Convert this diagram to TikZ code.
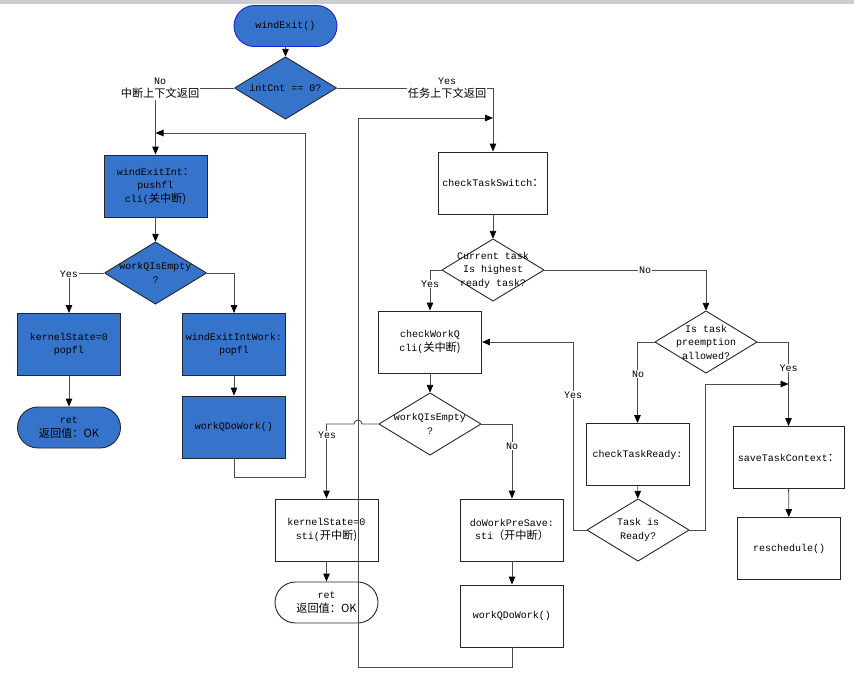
\documentclass[tikz,border=0pt]{standalone}
\usepackage{fontspec}
\setmainfont{Liberation Mono}
\newfontfamily\cjk[Scale=1.12]{Noto Sans CJK SC}
\usetikzlibrary{arrows.meta}
\definecolor{boxblue}{RGB}{54,116,204}
\definecolor{edgeblue}{RGB}{30,30,225}
\definecolor{linegray}{RGB}{75,75,75}
\definecolor{topgray}{RGB}{202,205,212}

\begin{document}
\begin{tikzpicture}[x=1pt,y=-1pt,>={Triangle[length=8pt,width=6.5pt,color=black]},
  every node/.style={font=\fontsize{10}{13.5}\selectfont,align=center,inner sep=1pt},
  flow/.style={draw=linegray,line width=0.9pt},
  procbox/.style={rectangle,draw=black!85,line width=0.9pt,minimum width=103pt,minimum height=62pt},
  bluebox/.style={procbox,fill=boxblue},
  whitebox/.style={procbox,fill=white},
  endcap/.style={rectangle,rounded corners=20.5pt,draw=black!85,line width=0.9pt,minimum width=103pt,minimum height=41pt},
  decision/.style={rectangle,minimum width=102pt,minimum height=62pt,inner sep=0pt,
    path picture={\draw[line width=0.9pt,draw=black!85,fill=#1] (path picture bounding box.north)
      -- (path picture bounding box.east) -- (path picture bounding box.south)
      -- (path picture bounding box.west) -- cycle;}},
  lbl/.style={fill=white,inner sep=1pt}]
\useasboundingbox (0,0) rectangle (854,678);
\fill[topgray] (0,0) rectangle (854,4);

% interrupt side
\node[endcap,fill=boxblue,draw=edgeblue] (exit) at (285.5,26) {windExit()};
\node[decision=boxblue] (cnt) at (285.5,88) {intCnt == 0?};
\node[bluebox] (exitint) at (155.5,186) {windExitInt\cjk{：}\\pushfl\\cli(\cjk{关中断})};
\node[decision=boxblue] (qempty1) at (155.5,273) {workQIsEmpty\\?};
\node[bluebox] (kstate1) at (69,344.5) {kernelState=0\\popfl};
\node[bluebox] (intwork) at (234,344.5) {windExitIntWork:\\popfl};
\node[bluebox] (dowork1) at (234,427) {workQDoWork()};
\node[endcap,fill=boxblue] (ret1) at (69,427.5) {ret\\\cjk{返回值：}OK};

% task side
\node[whitebox,minimum width=109pt] (switch) at (493,183) {checkTaskSwitch\cjk{：}};
\node[decision=white] (highest) at (493,270) {Current task\\Is highest\\ready task?};
\node[whitebox] (checkq) at (430,342) {checkWorkQ\\cli(\cjk{关中断})};
\node[decision=white] (qempty2) at (430,424) {workQIsEmpty\\?};
\node[whitebox] (kstate2) at (326.5,530) {kernelState=0\\sti(\cjk{开中断})};
\node[endcap,fill=white] (ret2) at (326.5,602.5) {ret\\\cjk{返回值：}OK};
\node[whitebox] (presave) at (512,530) {doWorkPreSave:\\sti\cjk{（开中断）}};
\node[whitebox] (dowork2) at (512,616) {workQDoWork()};
\node[decision=white] (preempt) at (706,342) {Is task\\preemption\\allowed?};
\node[whitebox] (ready) at (637.5,454.5) {checkTaskReady:};
\node[decision=white] (isready) at (638,530) {Task is\\Ready?};
\node[whitebox,minimum width=111pt] (save) at (788.5,457.5) {saveTaskContext\cjk{：}};
\node[whitebox] (resched) at (789,548.5) {reschedule()};

\coordinate (loopL) at (305,477);
\coordinate (mergeL) at (155.5,133);
\coordinate (loopR) at (358,667);
\coordinate (mergeR) at (493,118);
\coordinate (mergeS) at (788.5,384);

\draw[flow,->] (exit) -- (cnt);
\draw[flow,->] (cnt.west) -| (exitint.north);
\draw[flow,->] (cnt.east) -| (switch.north);
\node[lbl] (nointr) at (160,88) {No\\\cjk{中断上下文返回}};
\node[lbl] (yestask) at (447,88) {Yes\\\cjk{任务上下文返回}};

\draw[flow,->] (exitint) -- (qempty1);
\draw[flow,->] (qempty1.west) -| (kstate1.north);
\node[lbl] (yes1) at (69,274) {Yes};
\draw[flow,->] (qempty1.east) -| (intwork.north);
\draw[flow,->] (kstate1) -- (ret1);
\draw[flow,->] (intwork) -- (dowork1);
\draw[flow,->] (dowork1.south) |- (loopL) |- (mergeL);

\draw[flow,->] (switch) -- (highest);
\draw[flow,->] (highest.west) -| (checkq.north);
\node[lbl] (yes2) at (430,284) {Yes};
\draw[flow,->] (highest.east) -| (preempt.north);
\node[lbl] (no2) at (645,270) {No};
\draw[flow,->] (checkq) -- (qempty2);
\draw[flow,->] (qempty2.west) -- (362,424) arc (0:-180:4) -| (kstate2.north);
\node[lbl] (yes3) at (327,435) {Yes};
\draw[flow,->] (qempty2.east) -| (presave.north);
\node[lbl] (no3) at (512,446) {No};
\draw[flow,->] (kstate2) -- (ret2);
\draw[flow,->] (presave) -- (dowork2);
\draw[flow,->] (dowork2.south) |- (loopR) |- (mergeR);

\draw[flow,->] (preempt.west) -| (ready.north);
\node[lbl] (no4) at (638,374) {No};
\draw[flow,->] (preempt.east) -| (save.north);
\node[lbl] (yes4) at (788.5,368) {Yes};
\draw[flow,->] (ready) -- (isready);
\draw[flow,->] (isready.west) -- (573,530) |- (checkq.east);
\node[lbl] (yes5) at (573,395) {Yes};
\draw[flow,->] (isready.east) -- (705,530) |- (mergeS);
\draw[flow,->] (save) -- (resched);
\end{tikzpicture}
\end{document}
